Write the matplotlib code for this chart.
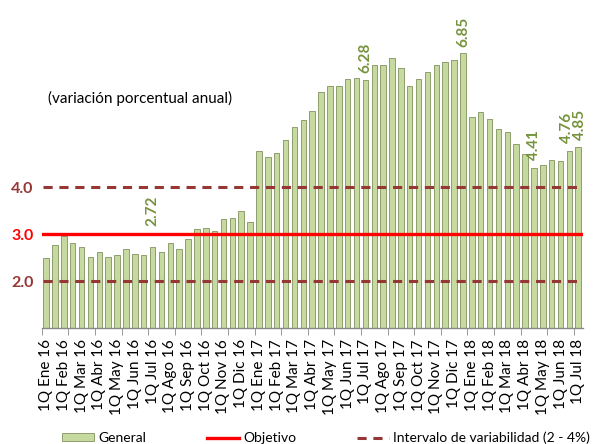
import numpy as np
import matplotlib
matplotlib.use("Agg")
from matplotlib import pyplot as plt
from matplotlib.lines import Line2D
from matplotlib.patches import Patch

plt.rcParams['font.family'] = ['Lato', 'DejaVu Sans']

meses = ["Ene", "Feb", "Mar", "Abr", "May", "Jun", "Jul", "Ago", "Sep", "Oct", "Nov", "Dic"]
etiquetas = []
for anio in ["16", "17", "18"]:
    for m in meses:
        etiquetas.append("1Q " + m + " " + anio)
        etiquetas.append("2Q " + m + " " + anio)
etiquetas = etiquetas[:61]  # hasta 1Q Jul 18

general = [2.50, 2.77, 2.96, 2.82, 2.72, 2.52, 2.62, 2.52, 2.56, 2.69,
           2.58, 2.56, 2.72, 2.62, 2.82, 2.69, 2.90, 3.10, 3.12, 3.07,
           3.33, 3.35, 3.50, 3.26, 4.77, 4.64, 4.72, 5.00, 5.28, 5.42,
           5.63, 6.02, 6.16, 6.16, 6.29, 6.33, 6.28, 6.59, 6.59, 6.74,
           6.53, 6.16, 6.29, 6.44, 6.59, 6.67, 6.70, 6.85, 5.50, 5.59,
           5.44, 5.23, 5.18, 4.91, 4.70, 4.41, 4.47, 4.57, 4.55, 4.76,
           4.85]

# etiquetas de datos: (posicion x, texto, altura de la etiqueta)
anotaciones = [(12, "2.72", 3.17), (36, "6.28", 6.43), (47, "6.85", 6.99),
               (55, "4.41", 4.57), (58.7, "4.76", 4.93), (60.2, "4.85", 5.0)]

objetivo = 3.0
limite_inf = 2.0
limite_sup = 4.0

x = np.arange(len(general))

fig = plt.figure(figsize=(5.93, 4.44), dpi=100)
ax = fig.add_axes([0.0703, 0.261, 0.9123, 0.7304])

ax.bar(x, general, width=0.62, bottom=0, color="#c6d99f", edgecolor="#8e9e6e",
       linewidth=0.7, zorder=2)

ax.axhline(objetivo, color="#ff0000", lw=2.4, zorder=3)
ax.plot([-0.3, 60.3], [limite_sup, limite_sup], color="#953735", lw=2.2,
        dashes=(3, 2.2), zorder=3)
ax.plot([-0.3, 60.3], [limite_inf, limite_inf], color="#953735", lw=2.2,
        dashes=(3, 2.2), zorder=3)

for i, txt, yy in anotaciones:
    ax.text(i, yy, txt, rotation=90, ha="center", va="bottom", color="#77933c",
            fontsize=11, fontweight="bold")

ax.set_xlim(-0.5, len(general) - 0.5)
ax.set_ylim(1.0, 7.9)

ax.set_xticks(x[::2])
ax.set_xticklabels(etiquetas[::2], rotation=90, fontsize=11)
ax.tick_params(axis="x", which="major", length=0, pad=8)
ax.set_xticks(np.arange(-0.5, len(general), 3), minor=True)
ax.tick_params(axis="x", which="minor", length=5, color="#888888", direction="out")

ax.set_yticks([limite_inf, objetivo, limite_sup])
ax.set_yticklabels(["2.0", "3.0", "4.0"], fontsize=11.5, fontweight="bold")
ax.tick_params(axis="y", length=0, pad=6)
for lab, c in zip(ax.get_yticklabels(), ["#953735", "#ff0000", "#953735"]):
    lab.set_color(c)

for s in ["top", "right", "left"]:
    ax.spines[s].set_visible(False)
ax.spines["bottom"].set_color("#888888")
ax.spines["bottom"].set_linewidth(1)

fig.text(0.236, 0.778, "(variación porcentual anual)", ha="center", va="center",
         fontsize=11)

handles = [Patch(facecolor="#c6d99f", edgecolor="#8e9e6e", lw=0.7),
           Line2D([], [], color="#ff0000", lw=2.4),
           Line2D([], [], color="#953735", lw=2.2, dashes=(3, 2.2))]
fig.legend(handles, ["General", "Objetivo", "Intervalo de variabilidad (2 - 4%)"],
           loc="center", bbox_to_anchor=(0.55, 0.014), ncol=3, frameon=False,
           fontsize=10, handlelength=2.3, handleheight=0.5, columnspacing=4.4,
           handletextpad=0.3)

fig.savefig("out.png", dpi=100)
